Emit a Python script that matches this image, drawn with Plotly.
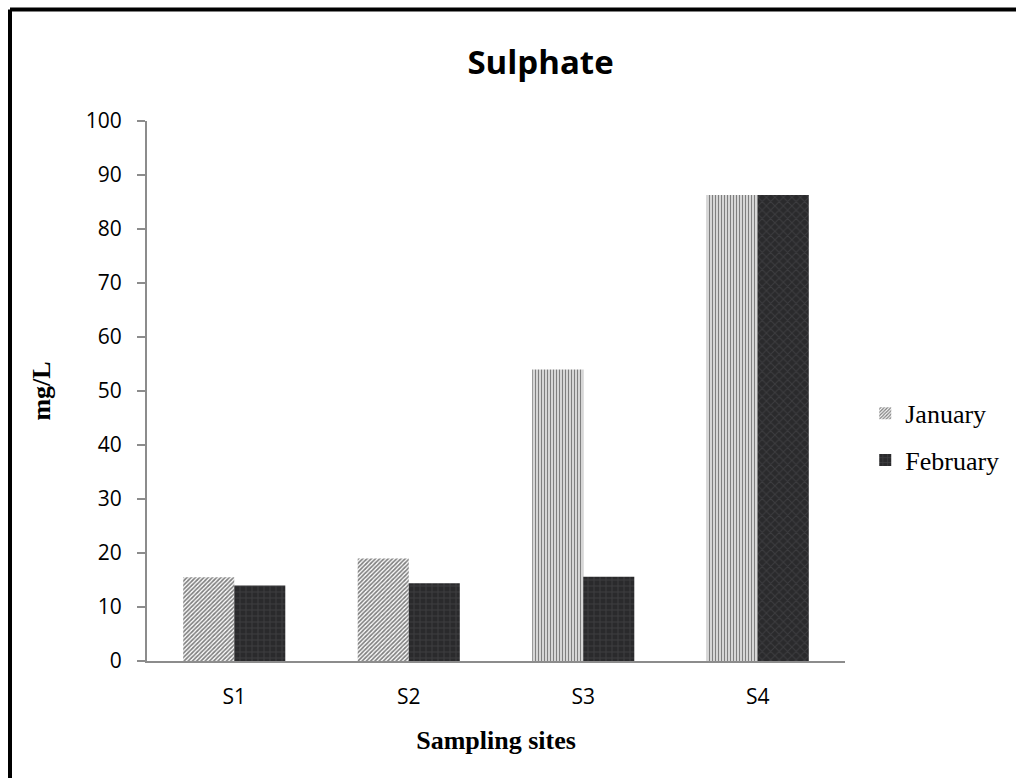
import plotly.graph_objects as go

# Sulphate concentration (mg/L) at four sampling sites
sites = ["S1", "S2", "S3", "S4"]
january = [15.5, 19.0, 54.0, 86.3]
february = [14.0, 14.4, 15.6, 86.3]

jan_shapes = ["/", "/", "|", "|"]
feb_shapes = ["+", "+", "+", "x"]

fig = go.Figure()
fig.add_trace(go.Bar(
    x=sites, y=january, name="January", legendgroup="jan",
    marker=dict(
        color="white",
        line=dict(width=0),
        pattern=dict(shape=jan_shapes, fgcolor="black", bgcolor="white",
                     size=3, solidity=0.55, fillmode="overlay"),
    ),
))
fig.add_trace(go.Bar(
    x=sites, y=february, name="February", legendgroup="feb",
    marker=dict(
        color="#2e2e30",
        line=dict(width=0),
        pattern=dict(shape=feb_shapes, fgcolor="#505053", bgcolor="#2a2a2c",
                     size=6, solidity=0.3, fillmode="overlay"),
    ),
))

axis_grey = "#8c8c8c"
fig.update_layout(
    width=1016, height=778,
    margin=dict(l=147, r=171, t=121, b=117, autoexpand=False),
    paper_bgcolor="white", plot_bgcolor="white",
    barmode="group", bargap=0.415, bargroupgap=0,
    title=dict(text="<b>Sulphate</b>", x=0.532, xanchor="center",
               y=0.92, yanchor="middle",
               font=dict(family="Open Sans", size=33, color="black")),
    xaxis=dict(
        showline=True, linecolor=axis_grey, linewidth=2,
        ticks="", showgrid=False, ticklabelstandoff=16,
        tickfont=dict(family="Open Sans", size=21, color="black"),
        title=dict(text="<b>Sampling sites</b>", standoff=22,
                   font=dict(family="Liberation Serif", size=26, color="black")),
    ),
    yaxis=dict(
        range=[0, 100], dtick=10,
        showline=True, linecolor=axis_grey, linewidth=2,
        ticks="outside", ticklen=8, tickcolor=axis_grey, tickwidth=2,
        ticklabelstandoff=11,
        showgrid=False, zeroline=False,
        tickfont=dict(family="Open Sans", size=21, color="black"),
        title=dict(text="<b>mg/L</b>", standoff=28,
                   font=dict(family="Liberation Serif", size=26, color="black")),
    ),
    legend=dict(
        x=1.029, y=0.415, xanchor="left", yanchor="middle",
        font=dict(family="Liberation Serif", size=26, color="black"),
        itemwidth=30, tracegroupgap=10, traceorder="grouped",
        bgcolor="rgba(0,0,0,0)",
    ),
    shapes=[
        # chart frame (left and top edges)
        dict(type="line", xref="paper", yref="paper",
             x0=(10 - 147) / 698, x1=(1030 - 147) / 698,
             y0=(661 - 9.5) / 540, y1=(661 - 9.5) / 540,
             line=dict(color="black", width=4)),
        dict(type="line", xref="paper", yref="paper",
             x0=(10 - 147) / 698, x1=(10 - 147) / 698,
             y0=(661 - 9.5) / 540, y1=(661 - 790) / 540,
             line=dict(color="black", width=4)),
    ],
)

fig.write_html("out.html")
